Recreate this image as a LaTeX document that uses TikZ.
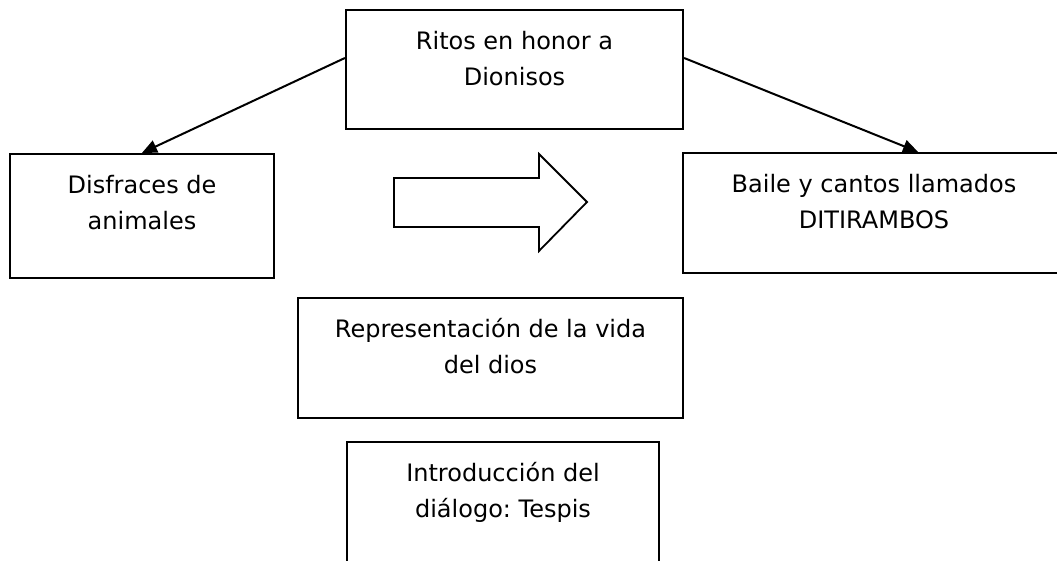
\documentclass[tikz,border=0pt]{standalone}
\usepackage{fontspec}
\setmainfont{DejaVu Sans}
\usepackage{tikz}
\usetikzlibrary{arrows.meta}
\frenchspacing
\tikzset{
  caja/.style={draw, line width=1.1pt, inner xsep=0pt, inner ysep=0pt, align=center,
    text height=38pt, font=\fontsize{12}{18}\selectfont},
  flecha/.style={-{Triangle[length=7.5pt,width=6.5pt]}, line width=1pt}
}

\begin{document}
\begin{tikzpicture}[x=0.5pt,y=-0.5pt]
  \useasboundingbox (0,0) rectangle (1057,561);
   \draw (514.5,69.5) node[caja, minimum width=168.5pt, text depth=21.5pt] (ritos) {Ritos en honor a\\Dionisos};
  \draw (142,216) node[caja, minimum width=132pt, text depth=24pt] (disfraces) {Disfraces de\\animales};
  \draw (874,213) node[caja, minimum width=191pt, text depth=22pt] (baile) {Baile y cantos llamados\\DITIRAMBOS};
      \draw (490.5,358) node[caja, minimum width=192.5pt, text depth=22pt] (vida) {Representación de la vida\\del dios};
  \draw (503,506) node[caja, minimum width=156pt, text depth=26pt] (tespis) {Introducción del\\diálogo: Tespis};

  \draw[line width=0.9pt] (394,178) -- (539,178) -- (539,154) -- (587,202) -- (539,251) -- (539,227) -- (394,227) -- cycle;

    \path[flecha] ([yshift=5.75pt]ritos.west) edge (disfraces.north);
    \path[flecha] ([yshift=5.75pt]ritos.east) edge ([xshift=22pt]baile.north);

\end{tikzpicture}
\end{document}
